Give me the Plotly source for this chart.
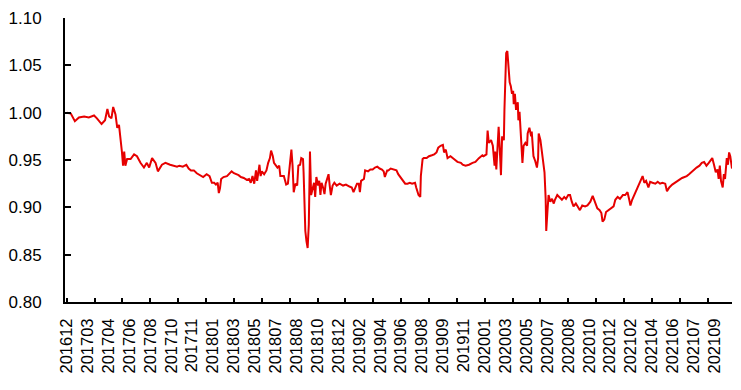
import plotly.graph_objects as go

# trading-day index of each read vertex
day = [0, 7, 14, 21, 30, 38, 47, 52, 60, 66, 70, 73, 77, 80, 84, 87, 90, 93, 95, 97,
       99, 101, 104, 110, 116, 121, 127, 133, 138, 142, 147, 153, 157, 164, 170,
       178, 184, 190, 194, 200, 206, 210, 214, 219, 224, 230, 235, 241, 246, 250,
       254, 257, 260, 262, 264, 266, 270, 276, 280, 284, 288, 292, 296, 300, 305,
       310, 314, 317, 320, 323, 326, 328, 332, 334, 336, 340, 344, 347, 350, 352,
       355, 357, 360, 363, 366,
       368, 374, 378, 381, 384, 387, 389, 391, 394, 397, 399, 402, 404, 407, 408,
       411, 413, 415, 417, 418, 419, 421, 423, 426, 428, 430, 433, 435, 437, 439,
       442, 444, 446, 449, 451, 453, 455, 458, 461, 465, 470, 476, 481, 487, 491,
       494, 497, 500, 503, 505, 507, 512, 514, 519, 523, 527, 531, 535, 539, 543,
       546, 548, 552, 554, 558, 564, 568, 571, 575, 579, 583, 587, 591, 595, 600,
       602, 606, 609, 610, 613, 615, 620, 624, 629, 633, 637, 640, 644, 648, 650,
       653, 656, 661, 667, 673, 679, 682, 687, 693, 699, 704, 710, 716,
       718, 723, 725, 727, 731, 734, 737, 738, 740, 742, 744, 746, 748, 750, 753,
       754, 756, 757, 759, 761, 763, 765, 767, 769, 770, 772, 774, 777, 778, 780,
       782, 784, 785, 787, 790, 793, 794, 797, 800, 801, 804, 807, 810, 812, 813,
       816, 818, 821, 823, 825, 826, 828, 830, 833, 836, 839, 841, 845, 849, 853,
       857, 860, 864, 867, 870, 873, 877, 880, 884, 888, 893, 897, 902, 906, 910,
       914,
       918, 921, 923, 926, 929, 934, 938, 942, 945, 949, 953, 958, 962, 966, 969,
       971, 974, 976, 980, 984, 986, 990, 992, 995, 998, 1002, 1005, 1009, 1014,
       1018, 1022, 1026, 1031, 1034, 1038, 1043, 1047, 1051, 1055, 1060, 1064,
       1068, 1072, 1077, 1081, 1085, 1090, 1094, 1098, 1102, 1106, 1110, 1112,
       1115, 1118, 1121, 1123, 1125, 1127, 1130, 1132, 1134, 1137, 1139, 1141,
       1143, 1146]

ratio = [1.000, 0.999, 0.991, 0.995, 0.996, 0.995, 0.997, 0.994, 0.988, 0.992, 1.004,
         0.996, 0.994, 1.006, 0.998, 0.984, 0.987, 0.973, 0.959, 0.944,
         0.959, 0.944, 0.951, 0.951, 0.956, 0.954, 0.947, 0.942, 0.947, 0.942, 0.952,
         0.947, 0.938, 0.945, 0.947,
         0.945, 0.944, 0.943, 0.944, 0.943, 0.945, 0.941, 0.939, 0.939, 0.936, 0.934,
         0.932, 0.935, 0.933, 0.926,
         0.926, 0.924, 0.926, 0.915, 0.920, 0.930, 0.932, 0.933, 0.936, 0.938, 0.936,
         0.935, 0.934, 0.932, 0.931,
         0.929, 0.930, 0.926, 0.933, 0.925, 0.939, 0.928, 0.945, 0.933, 0.938, 0.935,
         0.939, 0.947, 0.952, 0.960,
         0.954, 0.947, 0.944, 0.942, 0.944,
         0.933, 0.933, 0.924, 0.925, 0.940, 0.961, 0.944, 0.916, 0.925, 0.923, 0.944,
         0.945, 0.952, 0.951, 0.937,
         0.875, 0.864, 0.857, 0.882, 0.909, 0.959, 0.913, 0.920, 0.926, 0.911, 0.932,
         0.923, 0.928, 0.913, 0.926,
         0.920, 0.914, 0.925, 0.933, 0.935, 0.923, 0.913, 0.923, 0.926, 0.923, 0.925,
         0.923, 0.924, 0.922, 0.921,
         0.916, 0.920, 0.925, 0.925, 0.916, 0.928, 0.930, 0.939, 0.938, 0.940, 0.940,
         0.942, 0.943, 0.941, 0.940,
         0.938, 0.932, 0.939, 0.939, 0.941, 0.940, 0.939, 0.935, 0.932, 0.928, 0.925,
         0.925, 0.926, 0.925, 0.926,
         0.921, 0.913, 0.911, 0.933, 0.951, 0.952, 0.952, 0.954, 0.955, 0.956, 0.958,
         0.963, 0.965, 0.966, 0.958,
         0.961, 0.952, 0.954, 0.951, 0.948, 0.947, 0.945, 0.944, 0.945, 0.947, 0.948,
         0.952, 0.955,
         0.954, 0.956, 0.981, 0.968, 0.971, 0.965, 0.944, 0.959, 0.940, 0.961, 0.985,
         0.961, 0.934, 0.975, 0.971,
         1.003, 1.037, 1.063, 1.065, 1.048, 1.032, 1.028, 1.020, 1.023, 1.009, 1.020,
         1.003, 1.011, 0.992, 1.001,
         0.977, 0.958, 0.947, 0.965, 0.968, 0.965, 0.978, 0.984, 0.975, 0.980, 0.954,
         0.949, 0.942, 0.952, 0.978,
         0.971, 0.961, 0.951, 0.937, 0.909, 0.875, 0.895, 0.913, 0.906, 0.909, 0.904,
         0.908, 0.913, 0.910, 0.908,
         0.911, 0.909, 0.913, 0.913, 0.906, 0.901, 0.904, 0.901, 0.897, 0.902, 0.901,
         0.902, 0.906, 0.912, 0.906,
         0.899,
         0.897, 0.894, 0.885, 0.887, 0.895, 0.897, 0.899, 0.901, 0.908, 0.911, 0.909,
         0.913, 0.913, 0.916, 0.908,
         0.902, 0.908, 0.911, 0.916, 0.923, 0.925, 0.930, 0.933, 0.926, 0.928, 0.921,
         0.927, 0.926, 0.925,
         0.927, 0.925, 0.926, 0.925, 0.917, 0.921, 0.924, 0.926, 0.928, 0.929, 0.931,
         0.932,
         0.933, 0.935, 0.938, 0.940, 0.942, 0.944, 0.947, 0.948, 0.944, 0.947, 0.951,
         0.952,
         0.945, 0.937, 0.940, 0.930, 0.944, 0.928, 0.921, 0.935, 0.930, 0.952, 0.945,
         0.958,
         0.954, 0.941]

tick_labels = ["201612", "201703", "201704", "201706", "201708", "201710", "201711",
               "201801", "201803", "201805", "201807", "201808", "201810", "201812",
               "201902", "201904", "201906", "201908", "201909", "201911", "202001",
               "202003", "202005", "202007", "202008", "202010", "202012", "202102",
               "202104", "202106", "202107", "202109"]
label_every = 36
tick_every = 48
tick_days = [i * label_every for i in range(len(tick_labels))]

fig = go.Figure()
fig.add_trace(go.Scatter(x=day, y=ratio, mode="lines",
                         line=dict(color="#E60000", width=2), hoverinfo="skip"))

fam = "Liberation Sans, Arial, sans-serif"
fig.update_layout(
    width=741, height=390,
    margin=dict(l=65, r=9, t=13, b=88),
    paper_bgcolor="white", plot_bgcolor="white",
    showlegend=False, font=dict(family=fam, size=16, color="#000000"),
    xaxis=dict(range=[-3, 1146], showgrid=False, zeroline=False,
               showline=True, linecolor="black", linewidth=1.8,
               tickmode="array", tickvals=tick_days, ticktext=tick_labels,
               tickangle=-90, ticks="", ticklabelstandoff=8,
               tickfont=dict(family=fam, size=16.5, color="#000000"),
               minor=dict(ticks="inside", ticklen=4, tickcolor="black", tickwidth=1.5,
                          tick0=0, dtick=tick_every, showgrid=False)),
    yaxis=dict(range=[0.80, 1.10], showgrid=False, zeroline=False,
               showline=True, linecolor="black", linewidth=1.8,
               tickmode="linear", tick0=0.80, dtick=0.05, tickformat=".2f",
               ticks="inside", ticklen=6, tickwidth=1.5, tickcolor="black",
               ticklabelstandoff=18,
               tickfont=dict(family=fam, size=17, color="#000000")),
)
fig.write_html("out.html")
